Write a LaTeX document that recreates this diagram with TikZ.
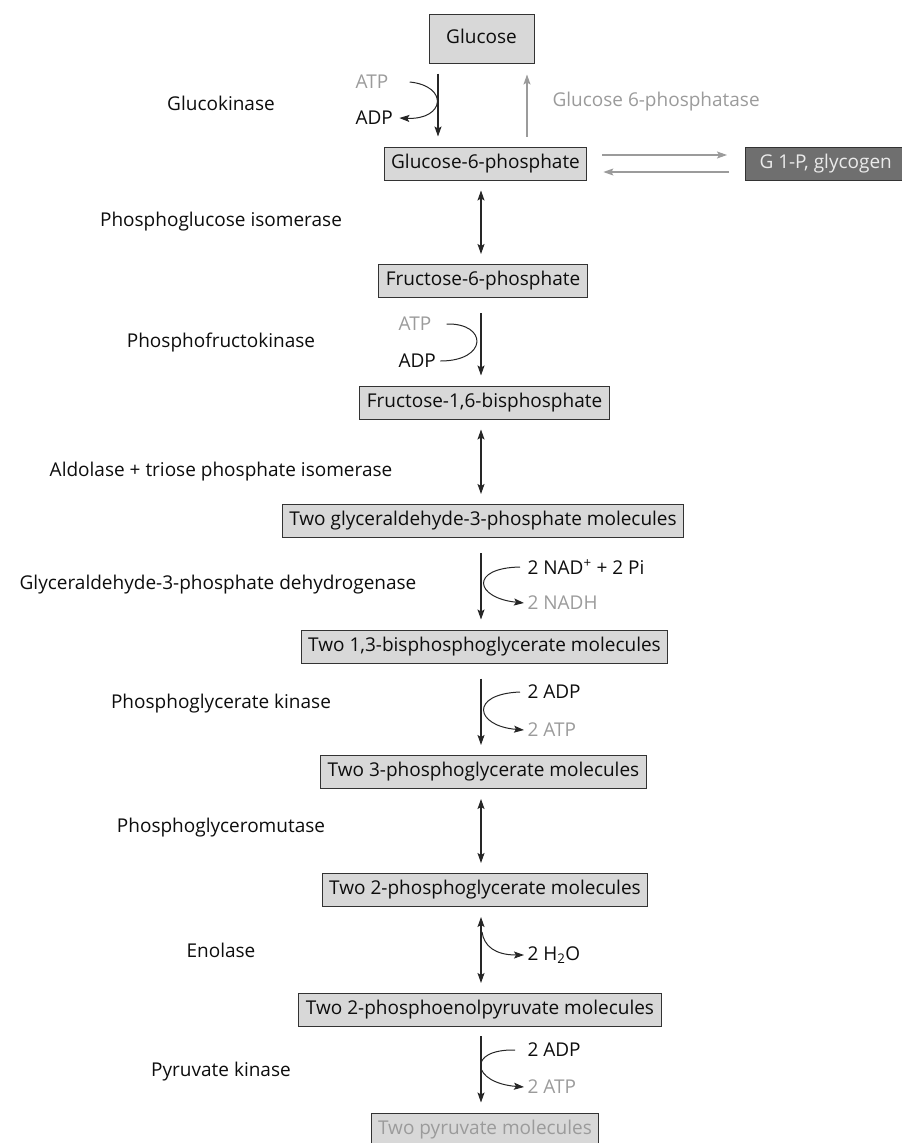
\documentclass[tikz,border=0pt]{standalone}
\usepackage{fontspec}
\setmainfont{Open Sans}
\usetikzlibrary{arrows.meta, positioning}
\definecolor{boxfill}{HTML}{D8D8D8}
\definecolor{boxline}{HTML}{333333}
\definecolor{fadegray}{HTML}{9B9B9B}
\definecolor{darkfill}{HTML}{6F6F6F}
\tikzset{
  >={Stealth[length=10pt, width=7pt, inset=2pt]},
  every node/.style={font=\fontsize{19}{22}\selectfont, text=black!95},
  metabolite/.style={draw=boxline, fill=boxfill, line width=1pt,
    inner xsep=7pt, minimum height=33pt, text height=13.5pt, text depth=4pt},
  enzyme/.style={},
  cofactor/.style={anchor=west},
  faded/.style={text=fadegray},
  flow/.style={->, line width=1.1pt, black!85, shorten <=15pt, shorten >=10pt},
  revflow/.style={<->, line width=1.1pt, black!85, shorten <=10pt, shorten >=10pt},
  sideflow/.style={line width=1pt, black!85},
  backflow/.style={->, line width=1.1pt, fadegray},
}

\begin{document}
\begin{tikzpicture}[x=1pt, y=-1pt]
  \useasboundingbox (0,0) rectangle (902,1143);
  \coordinate (spine) at (481,0);
  \coordinate (glkline) at (438,0);
  \coordinate (g6pline) at (527,0);

  % metabolites
  \node[metabolite, minimum width=105pt, minimum height=49pt] (glc) at (481.5,38.5) {Glucose};
  \node[metabolite] (g6p) at (485.5,163.5) {Glucose-6-phosphate};
  \node[metabolite, fill=darkfill, text=white!92!black, inner xsep=14pt, anchor=west] (g1p) at (745,163.5) {G 1-P, glycogen};
  \node[metabolite] (f6p) at (483,281) {Fructose-6-phosphate};
  \node[metabolite] (fbp) at (484.5,402.5) {Fructose-1,6-bisphosphate};
  \node[metabolite] (gap) at (483,521) {Two glyceraldehyde-3-phosphate molecules};
  \node[metabolite] (bpg) at (484.5,646.5) {Two 1,3-bisphosphoglycerate molecules};
  \node[metabolite] (pgthree) at (483.5,772) {Two 3-phosphoglycerate molecules};
  \node[metabolite] (pgtwo) at (485,890) {Two 2-phosphoglycerate molecules};
  \node[metabolite] (pep) at (480,1010) {Two 2-phosphoenolpyruvate molecules};
  \node[metabolite, faded] (pyr) at (485,1129.5) {Two pyruvate molecules};

  % enzymes
  \node[enzyme] (glk) at (221,103) {Glucokinase};
  \node[enzyme] (pgi) at (221,222) {Phosphoglucose isomerase};
  \node[enzyme] (pfk) at (221,343) {Phosphofructokinase};
  \node[enzyme] (ald) at (221,472) {Aldolase + triose phosphate isomerase};
  \node[enzyme] (gapdh) at (218,585) {Glyceraldehyde-3-phosphate dehydrogenase};
  \node[enzyme] (pgk) at (221,704) {Phosphoglycerate kinase};
  \node[enzyme] (pgm) at (221,828) {Phosphoglyceromutase};
  \node[enzyme] (eno) at (221,950) {Enolase};
  \node[enzyme] (pk) at (221,1072) {Pyruvate kinase};
  \node[enzyme, faded, anchor=west] (gsixpase) at (549,102) {Glucose 6-phosphatase};

  % cofactors
  \node[cofactor, faded] (atpa) at (352,82) {ATP};
  \node[cofactor] (adpa) at (352,118) {ADP};
  \node[cofactor, faded] (atpb) at (395,324) {ATP};
  \node[cofactor] (adpb) at (395,361) {ADP};
  \node[cofactor] (nad) at (524,567) {2 NAD\textsuperscript{+} + 2 Pi};
  \node[cofactor, faded] (nadh) at (524,603) {2 NADH};
  \node[cofactor] (adpc) at (524,692) {2 ADP};
  \node[cofactor, faded] (atpc) at (524,730) {2 ATP};
  \node[cofactor] (water) at (524,955) {2 H\textsubscript{2}O};
  \node[cofactor] (adpd) at (524,1050) {2 ADP};
  \node[cofactor, faded] (atpd) at (524,1087) {2 ATP};

  % main steps
  \draw[flow, shorten <=10pt] (glkline |- glc.south) -- (glkline |- g6p.north);
  \draw[backflow, shorten <=10pt, shorten >=11pt] (g6pline |- g6p.north) -- (g6pline |- glc.south);
  \draw[backflow, shorten <=15pt, shorten >=18pt] ([yshift=8.5pt]g6p.east) -- ([yshift=8.5pt]g6p.east -| g1p.west);
  \draw[backflow, shorten <=16pt, shorten >=16pt] ([yshift=-8.5pt]g6p.east -| g1p.west) -- ([yshift=-8.5pt]g6p.east);
  \draw[revflow] (spine |- g6p.south) -- (spine |- f6p.north);
  \draw[flow] (spine |- f6p.south) -- (spine |- fbp.north);
  \draw[revflow] (spine |- fbp.south) -- (spine |- gap.north);
  \draw[flow] (spine |- gap.south) -- (spine |- bpg.north);
  \draw[flow] (spine |- bpg.south) -- (spine |- pgthree.north);
  \draw[revflow] (spine |- pgthree.south) -- (spine |- pgtwo.north);
  \draw[revflow] (spine |- pgtwo.south) -- (spine |- pep.north);
  \draw[flow, shorten <=9pt] (spine |- pep.south) -- (spine |- pyr.north);

  % side reactions
  \draw[sideflow, ->] ([xshift=18pt]atpa.east) .. controls (449,86) and (445,120) .. ([xshift=3pt]adpa.east);
  \draw[sideflow] ([xshift=12pt]atpb.east) .. controls (488,323) and (488,361) .. ([xshift=1pt]adpb.east);
  \draw[sideflow, ->] ([xshift=-4pt]nad.west) .. controls (469,568) and (475,598) .. (nadh.west);
  \draw[sideflow, ->] ([xshift=-4pt]adpc.west) .. controls (469,694) and (475,726) .. (atpc.west);
  \draw[sideflow, ->] (482,932) .. controls (484,946) and (495,955) .. (water.west);
  \draw[sideflow, ->] ([xshift=-9pt]adpd.west) .. controls (466,1049) and (472,1083) .. (atpd.west);
\end{tikzpicture}
\end{document}
